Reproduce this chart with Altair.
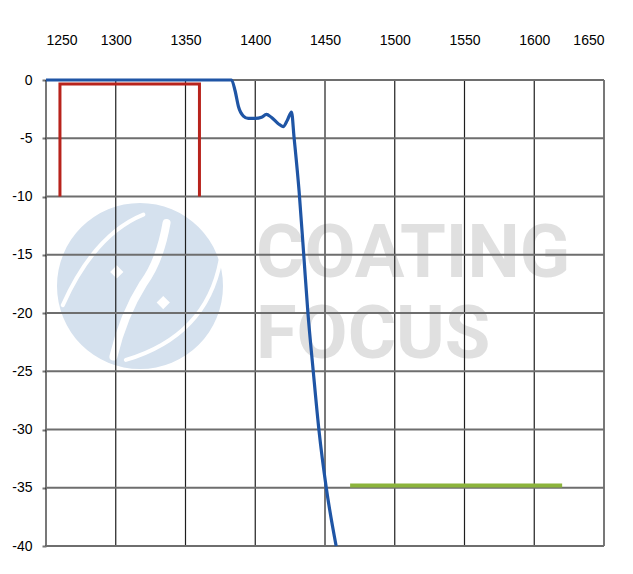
import altair as alt
import pandas as pd

# ---- data ----
x_ticks = [1250, 1300, 1350, 1400, 1450, 1500, 1550, 1600, 1650]
y_ticks = [0, -5, -10, -15, -20, -25, -30, -35, -40]

curve_wl = [1250, 1383, 1385.5, 1388, 1391.5, 1395, 1400, 1404.5, 1408, 1411.5,
            1416.5, 1420, 1423, 1426, 1427.8, 1431.4, 1434.7, 1437.7, 1441.5,
            1445.7, 1450.9, 1458]
curve_db = [0, 0, -0.9, -2.3, -3.1, -3.3, -3.3, -3.2, -2.95, -3.2,
            -3.75, -4.0, -3.45, -2.75, -4.9, -9.5, -14.9, -19.9, -24.9,
            -30.1, -35.0, -40.0]

pass_wl = [1260, 1260, 1360, 1360]
pass_db = [-10, -0.35, -0.35, -10]

stop_wl = [1468, 1620]
stop_db = [-34.8, -34.8]

wm_line1 = "COATING"
wm_line2 = "FOCUS"

# ---- tables ----
curve_df = pd.DataFrame({"wl": curve_wl, "db": curve_db})
pass_df = pd.DataFrame({"wl": pass_wl, "db": pass_db, "i": list(range(len(pass_wl)))})
stop_df = pd.DataFrame({"wl": stop_wl, "db": stop_db})
xg_df = pd.DataFrame({"wl": x_ticks})
yg_df = pd.DataFrame({"db": y_ticks})
one = pd.DataFrame({"k": [0]})

FONT = "Liberation Sans"

xscale = alt.Scale(domain=[1250, 1650], nice=False, zero=False)
yscale = alt.Scale(domain=[-40, 0], nice=False, zero=False)

xaxis = alt.Axis(orient="top", values=x_ticks, labelExpr="datum.value", title=None,
                 grid=False, domain=False, ticks=False, tickSize=0,
                 labelPadding=40, labelBaseline="middle", labelFont=FONT,
                 labelFontSize=14, labelColor="#000000")
yaxis = alt.Axis(orient="left", values=y_ticks, labelExpr="datum.value", title=None,
                 grid=False, domain=False, ticks=True, tickSize=4, tickWidth=2,
                 tickColor="#767676", labelPadding=10, labelFont=FONT,
                 labelFontSize=14, labelColor="#000000")

X = lambda: alt.X("wl:Q", scale=xscale, axis=xaxis)
Y = lambda: alt.Y("db:Q", scale=yscale, axis=yaxis)

R = 83
SZ = (2 * R) ** 2
cx, cy = 140 - 46, 286 - 80

logo_disk = alt.Chart(one).mark_point(shape="circle", filled=True, color="#D5E1EE",
                                      opacity=1, size=SZ).encode(
    x=alt.value(cx), y=alt.value(cy))
logo_thin = alt.Chart(one).mark_point(
    shape="M -0.93 0.23 Q -0.55 -0.62 0.04 -0.86 M 0.97 -0.31 Q 0.8 0.6 -0.17 0.89",
    filled=False, stroke="#FFFFFF", strokeWidth=4, strokeCap="round",
    opacity=1, size=SZ).encode(x=alt.value(cx), y=alt.value(cy))
logo_band = alt.Chart(one).mark_point(
    shape="M 0.32 -0.76 Q 0.24 -0.3 0.04 -0.03 Q -0.2 0.35 -0.32 0.85",
    filled=False, stroke="#FFFFFF", strokeWidth=8, strokeCap="round",
    opacity=1, size=SZ).encode(x=alt.value(cx), y=alt.value(cy))
logo_dots = alt.Chart(one).mark_point(
    shape="M -0.28 -0.25 L -0.2 -0.17 L -0.28 -0.09 L -0.36 -0.17 Z "
          "M 0.28 0.12 L 0.36 0.2 L 0.28 0.28 L 0.2 0.2 Z",
    filled=True, color="#FFFFFF", opacity=1, size=SZ).encode(
    x=alt.value(cx), y=alt.value(cy))

wm1 = alt.Chart(one).mark_text(text=wm_line1, font="Roboto", fontWeight="bold",
                               fontSize=74, color="#E0E0E0", align="left",
                               baseline="alphabetic").encode(
    x=alt.value(210), y=alt.value(197))
wm2 = alt.Chart(one).mark_text(text=wm_line2, font="Roboto", fontWeight="bold",
                               fontSize=74, color="#E0E0E0", align="left",
                               baseline="alphabetic").encode(
    x=alt.value(210), y=alt.value(278))

vgrid = alt.Chart(xg_df).mark_rule(color="#1E1E1E", strokeWidth=1.2).encode(x=X())
hgrid = alt.Chart(yg_df).mark_rule(color="#6E6E6E", strokeWidth=2).encode(y=Y())

pass_line = alt.Chart(pass_df).mark_line(color="#B8231C", strokeWidth=3).encode(
    x=X(), y=Y(), order="i:Q")
stop_line = alt.Chart(stop_df).mark_line(color="#8CB43C", strokeWidth=4).encode(
    x=X(), y=Y())
curve_line = alt.Chart(curve_df).mark_line(color="#1F55A5", strokeWidth=3.2,
                                           interpolate="monotone").encode(
    x=X(), y=Y())

chart = alt.layer(
    logo_disk, logo_thin, logo_band, logo_dots, wm1, wm2,
    vgrid, hgrid, pass_line, stop_line, curve_line
).properties(
    width=558, height=466,
    autosize=alt.AutoSizeParams(type="none"),
    padding={"left": 38, "top": 72, "right": 16, "bottom": 12},
).configure_view(strokeWidth=0)

chart.save("out.html", embed_options={"renderer": "svg", "actions": False})
